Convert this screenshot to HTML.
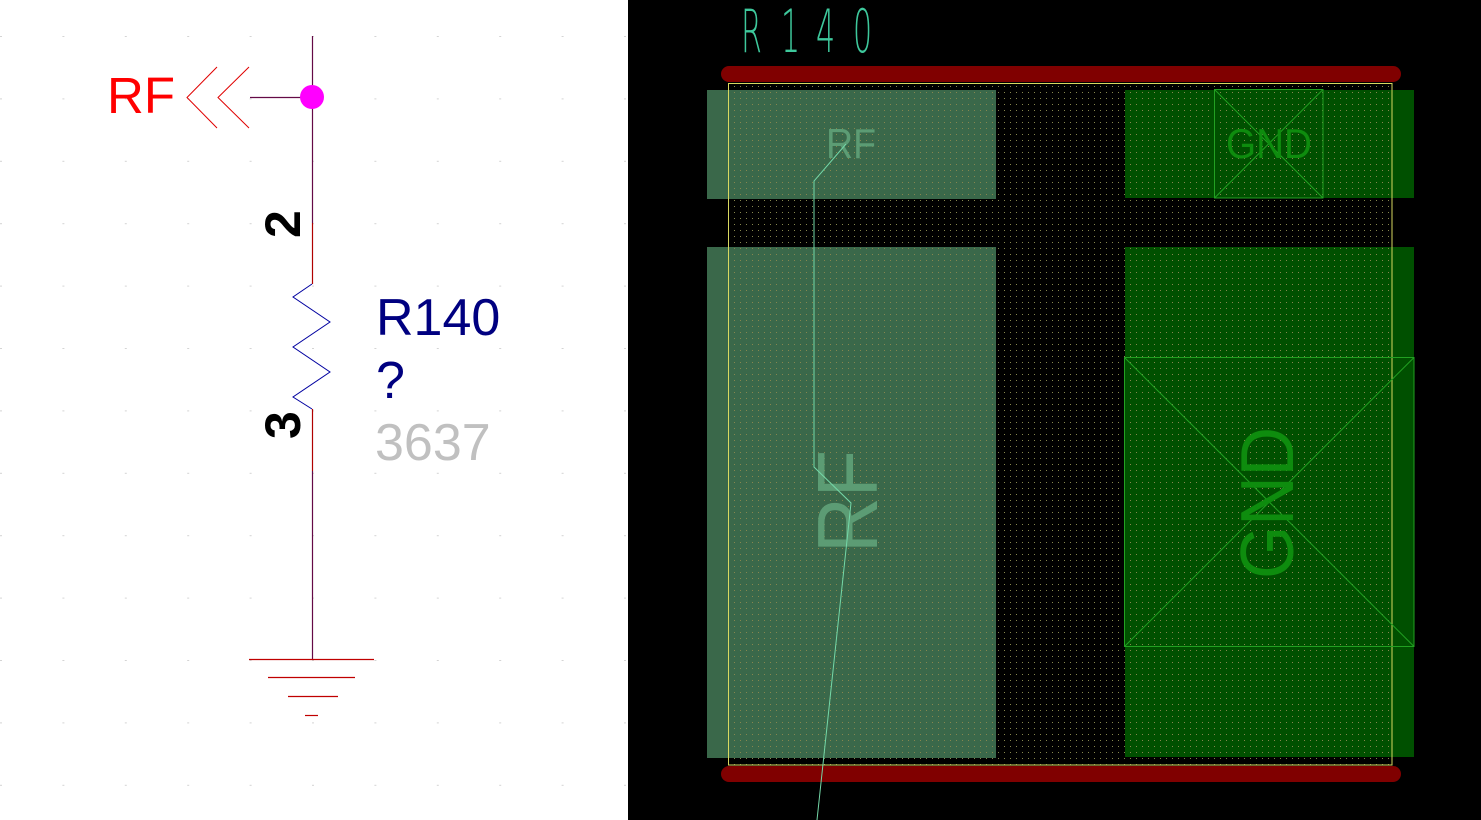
<!DOCTYPE html>
<html>
<head>
<meta charset="utf-8">
<style>
html,body{margin:0;padding:0;background:#fff;}
body{width:1481px;height:820px;overflow:hidden;}
svg{display:block;}
</style>
</head>
<body>
<svg width="1481" height="820" viewBox="0 0 1481 820" xmlns="http://www.w3.org/2000/svg">
  <defs>
    <pattern id="dots" x="0" y="0" width="6" height="6" patternUnits="userSpaceOnUse">
      <rect x="2" y="2" width="1" height="1" fill="#86864e"/>
    </pattern>
    <pattern id="gdots" x="0" y="0" width="62.4" height="62.4" patternUnits="userSpaceOnUse" patternTransform="translate(0,36)">
      <rect x="0" y="0" width="2" height="1" fill="#d4d4d4"/>
    </pattern>
  </defs>

  <!-- LEFT: schematic -->
  <rect x="0" y="0" width="628" height="820" fill="#ffffff"/>
  <rect x="0" y="0" width="628" height="820" fill="url(#gdots)"/>

  <!-- wires -->
  <line x1="312.5" y1="36" x2="312.5" y2="223" stroke="#640a46" stroke-width="1.2"/>
  <line x1="250" y1="97.5" x2="312" y2="97.5" stroke="#640a46" stroke-width="1.2"/>
  <line x1="312.5" y1="223" x2="312.5" y2="284" stroke="#b00000" stroke-width="1.2"/>
  <polyline points="312,284 293,297 330,322 293,347 330,372 293,397 312,409" fill="none" stroke="#0000a0" stroke-width="1"/>
  <line x1="312.5" y1="409" x2="312.5" y2="471" stroke="#b00000" stroke-width="1.2"/>
  <line x1="312.5" y1="471" x2="312.5" y2="659" stroke="#640a46" stroke-width="1.2"/>
  <!-- ground -->
  <line x1="249" y1="659.5" x2="374" y2="659.5" stroke="#c00000" stroke-width="1.2"/>
  <line x1="268" y1="677.5" x2="355" y2="677.5" stroke="#c00000" stroke-width="1.2"/>
  <line x1="288" y1="696.5" x2="338" y2="696.5" stroke="#c00000" stroke-width="1.2"/>
  <line x1="305" y1="715.5" x2="318" y2="715.5" stroke="#c00000" stroke-width="1.2"/>

  <!-- RF port -->
  <polyline points="217,67 187,97.5 217,128" fill="none" stroke="#e00000" stroke-width="1"/>
  <polyline points="249,67 218,97.5 249,128" fill="none" stroke="#e00000" stroke-width="1"/>
  <circle cx="312" cy="97" r="12" fill="#ff00ff"/>
  <text x="107" y="113" font-family="Liberation Sans, sans-serif" font-size="51" fill="#ff0000">RF</text>

  <!-- pin numbers -->
  <text transform="translate(300,238) rotate(-90)" font-family="Liberation Sans, sans-serif" font-weight="bold" font-size="50" fill="#000">2</text>
  <text transform="translate(300,439) rotate(-90)" font-family="Liberation Sans, sans-serif" font-weight="bold" font-size="50" fill="#000">3</text>

  <!-- refdes -->
  <text x="376" y="335" font-family="Liberation Sans, sans-serif" font-size="52" fill="#000080">R140</text>
  <text x="376" y="398" font-family="Liberation Sans, sans-serif" font-size="52" fill="#000080">?</text>
  <text x="375" y="460" font-family="Liberation Sans, sans-serif" font-size="52" fill="#c0c0c0">3637</text>

  <!-- RIGHT: PCB -->
  <rect x="628" y="0" width="853" height="820" fill="#000000"/>

  <!-- R140 silkscreen label -->
  <g font-family="DejaVu Sans, Liberation Sans, sans-serif" font-weight="200" font-size="60" fill="#3ec89c">
    <text transform="translate(741,52) scale(0.5,1)">R</text>
    <text transform="translate(781,52) scale(0.5,1)">1</text>
    <text transform="translate(816,52) scale(0.5,1)">4</text>
    <text transform="translate(853,52) scale(0.5,1)">0</text>
  </g>

  <!-- red courtyard bars -->
  <line x1="729" y1="74" x2="1393" y2="74" stroke="#800000" stroke-width="16" stroke-linecap="round"/>
  <line x1="729" y1="774" x2="1393" y2="774" stroke="#800000" stroke-width="16" stroke-linecap="round"/>

  <!-- pads -->
  <rect x="707" y="90" width="289" height="109" fill="#3a684a"/>
  <rect x="707" y="247" width="289" height="511" fill="#3a684a"/>
  <rect x="1125" y="90" width="289" height="108" fill="#005000"/>
  <rect x="1125" y="247" width="289" height="510" fill="#005000"/>

  <!-- dot grid within outline -->
  <rect x="729" y="84" width="663" height="681" fill="url(#dots)"/>

  <!-- outline -->
  <rect x="728.5" y="83.5" width="663.5" height="681.5" fill="none" stroke="#d8d860" stroke-width="1"/>

  <!-- GND boxes -->
  <g stroke="#22a022" stroke-width="1" fill="none">
    <rect x="1214.5" y="89.5" width="108.5" height="108.5"/>
    <line x1="1214.5" y1="89.5" x2="1323" y2="198"/>
    <line x1="1323" y1="89.5" x2="1214.5" y2="198"/>
    <rect x="1124.5" y="357.5" width="289.5" height="289"/>
    <line x1="1124.5" y1="357.5" x2="1414" y2="646.5"/>
    <line x1="1414" y1="357.5" x2="1124.5" y2="646.5"/>
  </g>

  <!-- pad labels -->
  <text x="826" y="158" font-family="Liberation Sans, sans-serif" font-size="42" fill="#5c9c74" textLength="50" lengthAdjust="spacingAndGlyphs">RF</text>
  <text x="1226" y="158" font-family="Liberation Sans, sans-serif" font-size="42" fill="#0e8c0e" textLength="86" lengthAdjust="spacingAndGlyphs">GND</text>
  <text transform="translate(877,553) rotate(-90)" font-family="Liberation Sans, sans-serif" font-size="85" fill="#5c9c74" textLength="103" lengthAdjust="spacingAndGlyphs">RF</text>
  <text transform="translate(1293,579) rotate(-90)" font-family="Liberation Sans, sans-serif" font-size="75" fill="#0e8c0e" textLength="152" lengthAdjust="spacingAndGlyphs">GND</text>

  <!-- ratsnest line -->
  <polyline points="846,144 814,181 814,467 851,503 817,820" fill="none" stroke="#74d8a8" stroke-width="1"/>
</svg>
</body>
</html>
